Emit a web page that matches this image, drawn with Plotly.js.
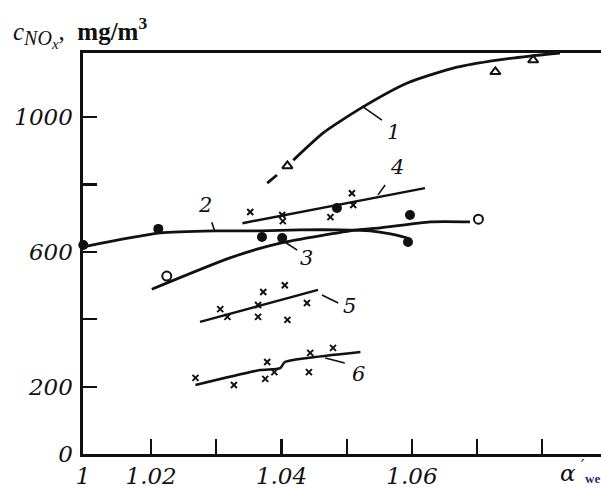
<!DOCTYPE html>
<html>
<head>
<meta charset="utf-8">
<script src="https://cdn.plot.ly/plotly-3.0.1.min.js"></script>
<style>html,body{margin:0;padding:0;background:#fff;}#chart{width:601px;height:488px;}</style>
</head>
<body>
<div id="chart"></div>
<script>
// ---- data ----
const xLabelVals = [1.00955, 1.02, 1.04, 1.06];
const xLabelText = ['1', '1.02', '1.04', '1.06'];
const xMinorTicks = [1.03, 1.05, 1.07, 1.08];
const yLabelVals = [0, 200, 600, 1000];
const yLabelText = ['0', '200', '600', '1000'];
const yMinorTicks = [400, 800];

// curve 1 (triangles)
const c1DashX = [1.0378, 1.0393];
const c1DashY = [804, 828];
const c1X = [1.0418, 1.0464, 1.0525, 1.0593, 1.0669, 1.0731, 1.0781, 1.0827];
const c1Y = [872, 953, 1030, 1101, 1148, 1169, 1181, 1190];
const tri1X = [1.0409, 1.0728, 1.0786];
const tri1Y = [855, 1134, 1169];

// curve 2 (filled circles)
const c2X = [1.0096, 1.0214, 1.0298, 1.0367, 1.0428, 1.0490, 1.0536, 1.0567, 1.0593];
const c2Y = [615, 656, 662, 662, 665, 665, 662, 653, 641];
const dot2X = [1.0096, 1.0211, 1.0370, 1.0401, 1.0485, 1.0597, 1.0594];
const dot2Y = [620, 668, 644, 641, 730, 709, 629];

// curve 3 (open circles)
const c3X = [1.0201, 1.0321, 1.0398, 1.0516, 1.0551, 1.0628, 1.0689];
const c3Y = [489, 582, 626, 665, 671, 689, 689];
const circ3X = [1.0224, 1.0702];
const circ3Y = [528, 697];

// curve 4 (crosses)
const c4X = [1.0340, 1.0620];
const c4Y = [685, 789];
const x4X = [1.0352, 1.0401, 1.0402, 1.0475, 1.0508, 1.0510];
const x4Y = [718, 709, 691, 703, 774, 739];

// curve 5 (crosses)
const c5X = [1.0275, 1.0456];
const c5Y = [392, 487];
const x5X = [1.0306, 1.0317, 1.0364, 1.0372, 1.0364, 1.0405, 1.0439, 1.0409];
const x5Y = [430, 407, 442, 481, 407, 501, 448, 398];

// curve 6 (crosses)
const c6X = [1.0268, 1.0367, 1.0398, 1.0405, 1.0439, 1.0521];
const c6Y = [205, 249, 255, 273, 285, 303];
const x6X = [1.0268, 1.0327, 1.0378, 1.0375, 1.0389, 1.0444, 1.0442, 1.0479];
const x6Y = [226, 205, 273, 223, 243, 300, 243, 315];

// curve labels and leader lines
const labelText = ['1', '2', '3', '4', '5', '6'];
const labelX = [1.0571, 1.0283, 1.0439, 1.0577, 1.0504, 1.0518];
const labelY = [955, 739, 582, 852, 439, 237];
const leaderX = [1.0525, 1.0554, null, 1.0293, 1.0298, null, 1.0405, 1.0424, null,
                 1.0548, 1.0559, null, 1.0462, 1.0487, null, 1.0467, 1.0497];
const leaderY = [1030, 991, null, 688, 659, null, 629, 605, null,
                 769, 798, null, 472, 448, null, 285, 270];

// ---- drawing ----
const INK = '#111';
const LW = 2.8;
const X_RANGE = [1.00955, 1.089];
const Y_RANGE = [0, 1190];
function line(x, y, w) {
  return {x: x, y: y, mode: 'lines', line: {color: INK, width: w || LW, shape: 'spline', smoothing: 0.6},
          hoverinfo: 'skip', cliponaxis: false};
}
function pts(x, y, symbol, size, lw) {
  return {x: x, y: y, mode: 'markers', cliponaxis: false, hoverinfo: 'skip',
          marker: {symbol: symbol, size: size, color: INK, line: {color: INK, width: lw || 0}}};
}

const traces = [
  line(c1DashX, c1DashY), line(c1X, c1Y),
  line(c2X, c2Y), line(c3X, c3Y),
  line(c4X, c4Y, 2.5), line(c5X, c5Y, 2.5), line(c6X, c6Y, 2.5),
  {x: leaderX, y: leaderY, mode: 'lines', line: {color: INK, width: 1.6}, hoverinfo: 'skip', connectgaps: false},
  pts(tri1X, tri1Y, 'triangle-up-open', 9, 2),
  pts(dot2X, dot2Y, 'circle', 10, 0),
  {x: circ3X, y: circ3Y, mode: 'markers', cliponaxis: false, hoverinfo: 'skip',
   marker: {symbol: 'circle', size: 9, color: '#fff', line: {color: INK, width: 2}}},
  pts(x4X, x4Y, 'x-thin-open', 6, 2),
  pts(x5X, x5Y, 'x-thin-open', 6, 2),
  pts(x6X, x6Y, 'x-thin-open', 6, 2),
  // carrier for the unlabeled tick-mark axes (draws nothing)
  {x: xMinorTicks, y: xMinorTicks.map(() => null), xaxis: 'x2', yaxis: 'y2', mode: 'markers',
   hoverinfo: 'skip', marker: {opacity: 0}}
];

const annotations = labelText.map((t, i) => ({
  x: labelX[i], y: labelY[i], xref: 'x', yref: 'y', text: t, showarrow: false,
  xanchor: 'center', yanchor: 'middle',
  font: {family: 'DejaVu Serif', size: 21, style: 'italic', color: INK}
}));
annotations.push(
  {x: 0.917, y: -0.042, xref: 'paper', yref: 'paper', xanchor: 'left', yanchor: 'middle',
   text: 'α<sup> ′</sup>', showarrow: false,
   font: {family: 'DejaVu Serif', size: 23, style: 'italic', color: INK}},
  {x: 0.9655, y: -0.0848, xref: 'paper', yref: 'paper', xanchor: 'left', yanchor: 'bottom',
   text: '<b>we</b>', showarrow: false,
   font: {family: 'Liberation Serif', size: 13, color: '#1c2a6e'}}
);

const tickStyle = {ticks: 'inside', tickwidth: 2.2, tickcolor: INK, showgrid: false, zeroline: false};
const labelFont = {family: 'DejaVu Serif', size: 23, style: 'italic', color: INK};

const layout = {
  width: 601, height: 488,
  margin: {l: 83, r: 0, t: 53, b: 34, pad: 0},
  paper_bgcolor: '#fff', plot_bgcolor: '#fff',
  showlegend: false,
  title: {
    text: '<i>c</i><sub><i><span style="font-size:20px">NO</span><sub><span style="font-size:15px">x</span></sub></i></sub>,  <b>mg/m<sup>3</sup></b>',
    x: 13 / 601, xanchor: 'left', xref: 'container',
    y: 1 - 31 / 488, yanchor: 'middle', yref: 'container',
    font: {family: 'Liberation Serif', size: 25, color: INK}
  },
  xaxis: Object.assign({
    range: X_RANGE, tickmode: 'array', tickvals: xLabelVals, ticktext: xLabelText, ticklen: 15,
    showline: true, linewidth: 2.6, linecolor: INK, mirror: true, tickfont: labelFont
  }, tickStyle),
  yaxis: Object.assign({
    range: Y_RANGE, tickmode: 'array', tickvals: yLabelVals, ticktext: yLabelText, ticklen: 14,
    showline: true, linewidth: 2.6, linecolor: INK, ticklabelstandoff: 3, tickfont: labelFont
  }, tickStyle),
  xaxis2: Object.assign({
    range: X_RANGE, overlaying: 'x', anchor: 'y2', tickmode: 'array', tickvals: xMinorTicks,
    ticklen: 15, showticklabels: false, showline: false
  }, tickStyle),
  yaxis2: Object.assign({
    range: Y_RANGE, overlaying: 'y', anchor: 'x2', side: 'left', tickmode: 'array', tickvals: yMinorTicks,
    ticklen: 14, showticklabels: false, showline: false
  }, tickStyle),
  annotations: annotations
};

Plotly.newPlot('chart', traces, layout, {staticPlot: true, displayModeBar: false});
</script>
</body>
</html>
